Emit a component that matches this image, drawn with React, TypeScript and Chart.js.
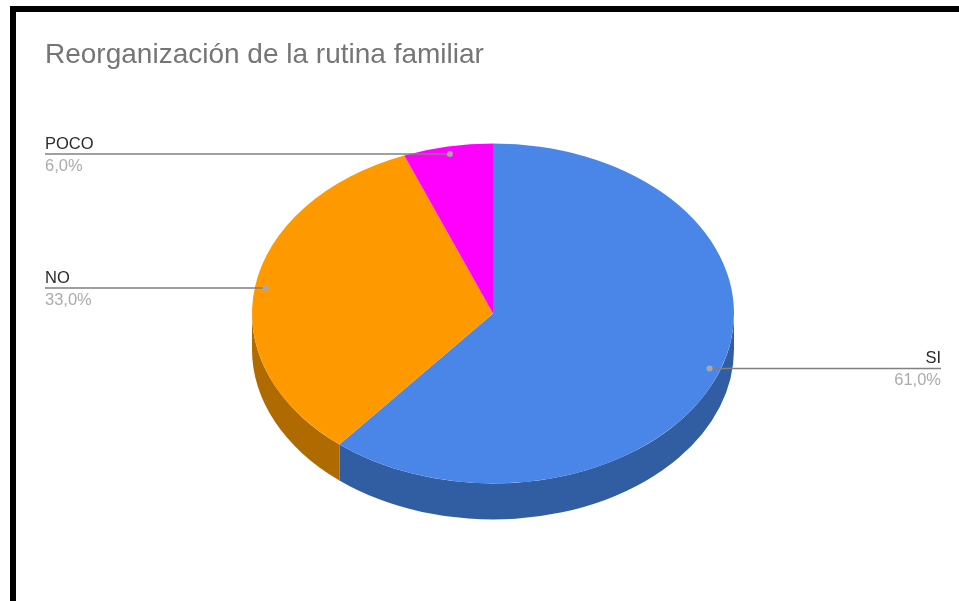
import React, { useEffect, useRef } from "react";
import { Chart, registerables } from "chart.js";

Chart.register(...registerables);

const titleText = "Reorganización de la rutina familiar";
const categories = ["SI", "NO", "POCO"];
const values = [61, 33, 6];
const percentLabels = ["61,0%", "33,0%", "6,0%"];
const topColors = ["#4a86e8", "#ff9900", "#ff00ff"];
const sideColors = ["#315ea3", "#b06b00", "#b300b3"];

const SQUASH = 0.705;
const DEPTH = 36;
const DOT_RATIO = 0.955;
const FONT = '"Liberation Sans", Arial, sans-serif';

const tiltPlugin = {
  id: "tilt",
  beforeDatasetsDraw(chart: any) {
    const ctx = chart.ctx;
    const arcs = chart.getDatasetMeta(0).data;
    const first = arcs[0];
    const cx = first.x;
    const cy = first.y;
    const rx = first.outerRadius;
    const ry = rx * SQUASH;
    arcs.forEach((arc: any, i: number) => {
      const a0 = Math.max(arc.startAngle, 0);
      const a1 = Math.min(arc.endAngle, Math.PI);
      if (a1 <= a0) return;
      ctx.save();
      ctx.beginPath();
      ctx.ellipse(cx, cy, rx, ry, 0, a0, a1, false);
      ctx.ellipse(cx, cy + DEPTH, rx, ry, 0, a1, a0, true);
      ctx.closePath();
      ctx.fillStyle = sideColors[i];
      ctx.fill();
      ctx.restore();
    });
    ctx.save();
    ctx.translate(cx, cy);
    ctx.scale(1, SQUASH);
    ctx.translate(-cx, -cy);
  },
  afterDatasetsDraw(chart: any) {
    chart.ctx.restore();
  },
};

const calloutPlugin = {
  id: "callouts",
  afterDraw(chart: any) {
    const ctx = chart.ctx;
    const area = chart.chartArea;
    chart.getDatasetMeta(0).data.forEach((arc: any, i: number) => {
      const mid = (arc.startAngle + arc.endAngle) / 2;
      const px = arc.x + Math.cos(mid) * arc.outerRadius * DOT_RATIO;
      const py = arc.y + Math.sin(mid) * arc.outerRadius * SQUASH * DOT_RATIO;
      const onRight = Math.cos(mid) > 0;
      const endX = onRight ? area.right : area.left;
      ctx.save();
      ctx.strokeStyle = "#808080";
      ctx.lineWidth = 1.5;
      ctx.beginPath();
      ctx.moveTo(px, py);
      ctx.lineTo(endX, py);
      ctx.stroke();
      ctx.fillStyle = "#a8a8a8";
      ctx.beginPath();
      ctx.arc(px, py, 3, 0, Math.PI * 2);
      ctx.fill();
      ctx.textAlign = onRight ? "right" : "left";
      ctx.font = `16.5px ${FONT}`;
      ctx.textBaseline = "alphabetic";
      ctx.fillStyle = "#2b2b2b";
      ctx.fillText(categories[i], endX, py - 5);
      ctx.fillStyle = "#ababab";
      ctx.fillText(percentLabels[i], endX, py + 16.5);
      ctx.restore();
    });
  },
};

export default function App() {
  const ref = useRef<HTMLCanvasElement | null>(null);
  useEffect(() => {
    document.documentElement.style.overflow = "hidden";
    const chart = new Chart(ref.current as HTMLCanvasElement, {
      type: "pie",
      data: {
        labels: categories,
        datasets: [
          {
            data: values,
            backgroundColor: topColors,
            borderWidth: 0,
            radius: 241,
            clip: false,
          } as any,
        ],
      },
      options: {
        responsive: false,
        animation: false,
        events: [],
        layout: { padding: { left: 45, right: 18, top: 0, bottom: 45.6 } },
        plugins: {
          legend: { display: false },
          tooltip: { enabled: false },
          title: {
            display: true,
            text: titleText,
            align: "start",
            color: "#757575",
            font: { family: FONT, size: 28, weight: "normal", lineHeight: 1.2 },
            padding: { top: 38, bottom: 0 },
          },
        },
      },
      plugins: [tiltPlugin, calloutPlugin],
    } as any);
    return () => chart.destroy();
  }, []);

  return (
    <div style={{ position: "absolute", left: 0, top: 0, width: 959, height: 601, background: "#fff", overflow: "hidden" }}>
      <canvas ref={ref} width={959} height={601} style={{ position: "absolute", left: 0, top: 0 }} />
      <div
        style={{
          position: "absolute",
          left: 10,
          top: 6,
          width: 949,
          height: 595,
          boxSizing: "border-box",
          borderTop: "6px solid #000",
          borderLeft: "6px solid #000",
        }}
      />
    </div>
  );
}
